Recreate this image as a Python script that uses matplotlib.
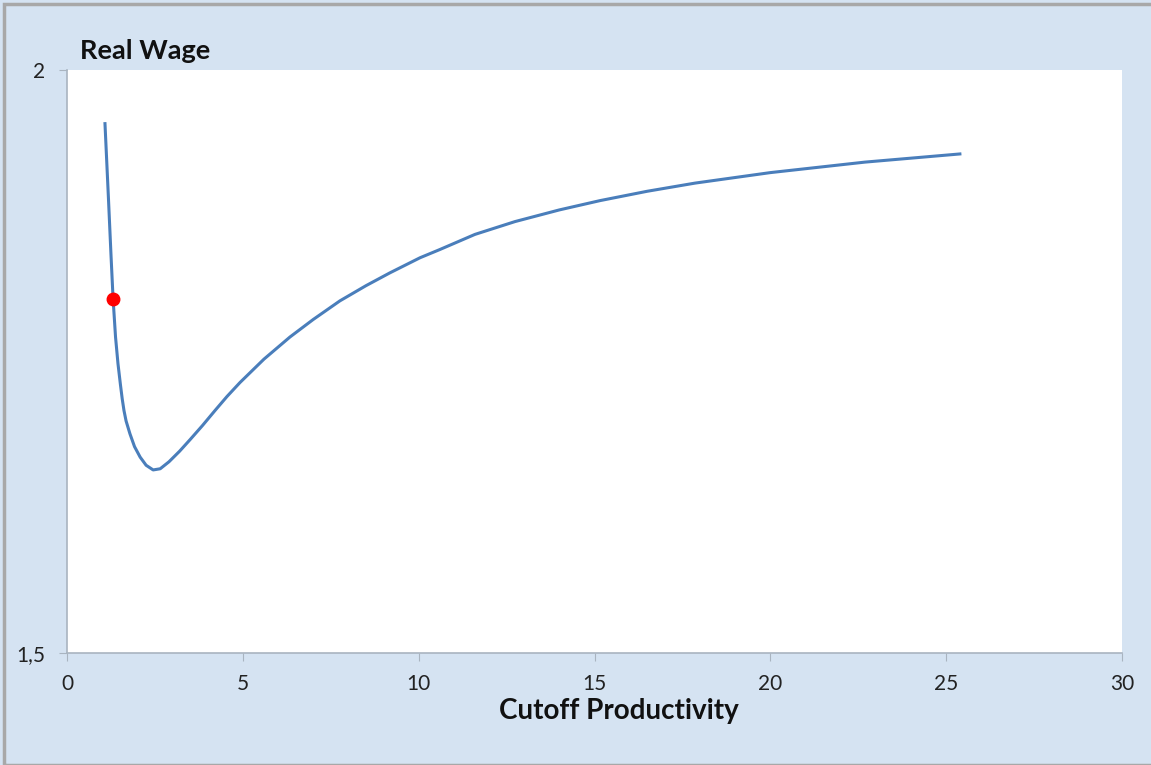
import matplotlib.pyplot as plt
from matplotlib.patches import Rectangle

# curve
cutoff = [1.08, 1.18, 1.25, 1.31, 1.38, 1.45, 1.52, 1.57, 1.62, 1.68, 1.79,
          1.92, 2.08, 2.25, 2.45, 2.65, 2.90, 3.20, 3.50, 3.85, 4.21, 4.55,
          4.92, 5.60, 6.34, 7.00, 7.76, 8.50, 9.18, 10.04, 10.6, 11.6, 12.74,
          14.0, 15.16, 16.5, 17.86, 20.0, 22.69, 25.39]
wage = [1.954, 1.889, 1.842, 1.804, 1.771, 1.748, 1.730, 1.718, 1.708, 1.699,
        1.688, 1.677, 1.668, 1.661, 1.657, 1.658, 1.664, 1.673, 1.683, 1.695,
        1.708, 1.720, 1.732, 1.752, 1.771, 1.786, 1.802, 1.815, 1.826, 1.839,
        1.846, 1.859, 1.870, 1.880, 1.888, 1.896, 1.903, 1.912, 1.921, 1.928]

point_x = [1.31]
point_y = [1.804]

xticks = [0, 5, 10, 15, 20, 25, 30]
yticks = [1.5, 2.0]
ylabels = ["1,5", "2"]

bg = "#d5e3f2"
plt.rcParams["font.family"] = ["Lato", "DejaVu Sans"]

fig = plt.figure(figsize=(11.51, 7.65), dpi=100, facecolor=bg)
fig.patches.append(Rectangle((4 / 1151, 0), 1.0, 1 - 4 / 765, transform=fig.transFigure,
                             fill=False, edgecolor="#a8a8a8", linewidth=2.5))
ax = fig.add_axes([67 / 1151, 112 / 765, 1055 / 1151, 583 / 765])
ax.set_facecolor("white")

ax.plot(cutoff, wage, color="#4a7ebb", linewidth=2.2, solid_joinstyle="round")
ax.plot(point_x, point_y, "o", color="#ff0000", markersize=9, zorder=3)

ax.set_xlim(0, 30)
ax.set_ylim(1.5, 2.0)
ax.set_xticks(xticks)
ax.set_yticks(yticks)
ax.set_yticklabels(ylabels)

for s in ["top", "right"]:
    ax.spines[s].set_visible(False)
for s in ["left", "bottom"]:
    ax.spines[s].set_color("#a9b4c0")
    ax.spines[s].set_linewidth(1.2)
ax.tick_params(axis="both", direction="out", length=6, color="#a9b4c0",
               labelsize=15, labelcolor="#222222")
ax.tick_params(axis="x", pad=9)
ax.tick_params(axis="y", pad=10)

ax.text(0.0123, 1.012, "Real Wage", transform=ax.transAxes, fontsize=19.5,
        fontweight="bold", ha="left", va="bottom", color="#111111")
ax.set_xlabel("Cutoff Productivity", fontsize=20, fontweight="bold", color="#111111")
ax.xaxis.set_label_coords(0.523, -0.1)
ax.xaxis.label.set_va("center")

fig.savefig("out.png", dpi=100, facecolor=bg)
